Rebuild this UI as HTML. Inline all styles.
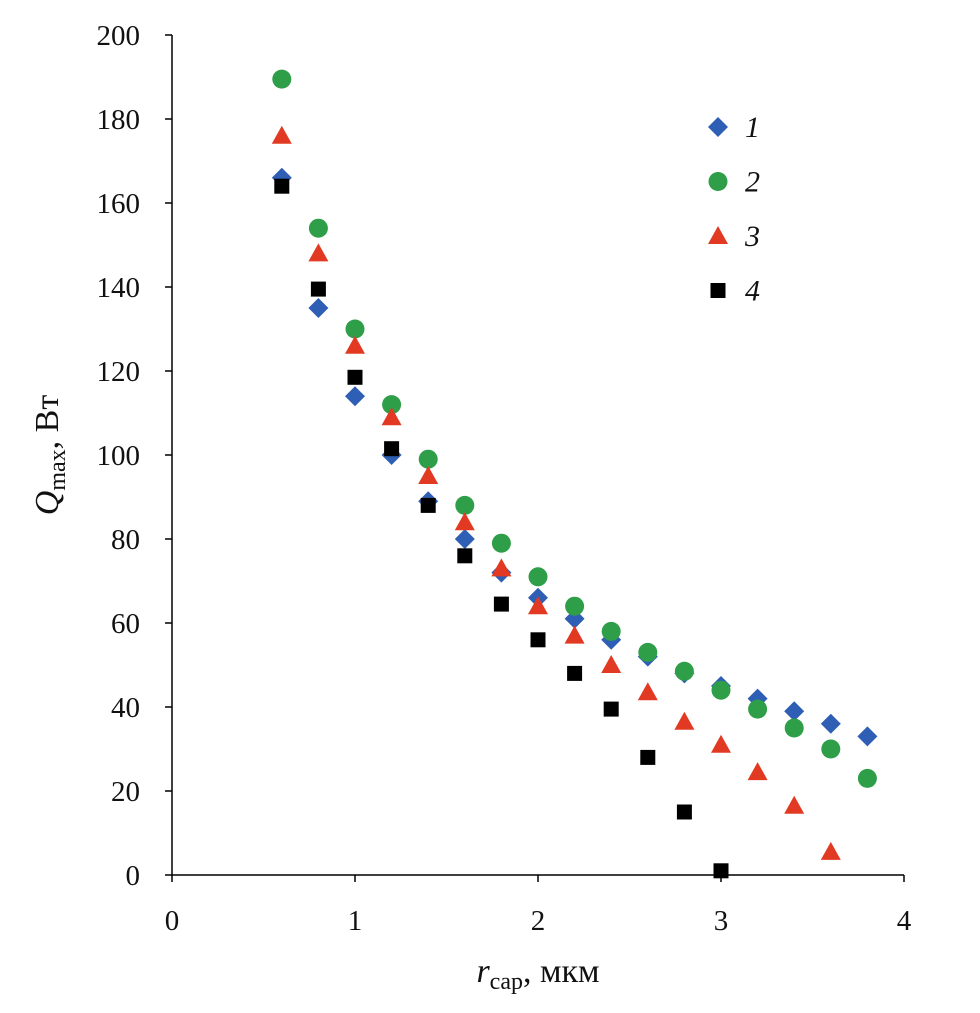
<!DOCTYPE html>
<html><head><meta charset="utf-8"><style>
body{margin:0;background:#fff}
svg text{font-family:"Liberation Serif",serif;fill:#111}
</style></head><body>
<svg id="chart" width="980" height="1008" viewBox="0 0 980 1008" xmlns="http://www.w3.org/2000/svg">
<g id="axes"></g>
<g id="marks"></g>
<g id="legend"></g>
<text transform="translate(58,455) rotate(-90)" text-anchor="middle" font-size="34"><tspan font-style="italic">Q</tspan><tspan font-size="24" dy="7">max</tspan><tspan dy="-7">, Вт</tspan></text>
<text x="538" y="982" text-anchor="middle" font-size="34"><tspan font-style="italic">r</tspan><tspan font-size="24" dy="7">cap</tspan><tspan dy="-7">, мкм</tspan></text>
</svg>
<script>
const xs1=[0.6,0.8,1.0,1.2,1.4,1.6,1.8,2.0,2.2,2.4,2.6,2.8,3.0,3.2,3.4,3.6,3.8];
const s1=[166,135,114,100,89,80,72,66,61,56,52,48,45,42,39,36,33];
const s2=[189.5,154,130,112,99,88,79,71,64,58,53,48.5,44,39.5,35,30,23];
const xs3=[0.6,0.8,1.0,1.2,1.4,1.6,1.8,2.0,2.2,2.4,2.6,2.8,3.0,3.2,3.4,3.6];
const s3=[176,148,126,109,95,84,73,64,57,50,43.5,36.5,31,24.5,16.5,5.5];
const xs4=[0.6,0.8,1.0,1.2,1.4,1.6,1.8,2.0,2.2,2.4,2.6,2.8,3.0];
const s4=[164,139.5,118.5,101.5,88,76,64.5,56,48,39.5,28,15,1];
const yTicks=[0,20,40,60,80,100,120,140,160,180,200];
const xTicks=[0,1,2,3,4];
const legendLabels=["1","2","3","4"];
const X=v=>172+v*183, Y=v=>875-v*4.2;
const NS="http://www.w3.org/2000/svg";
function mk(tag,attrs,parent){const e=document.createElementNS(NS,tag);for(const k in attrs)e.setAttribute(k,attrs[k]);parent.appendChild(e);return e;}
const axes=document.getElementById('axes'),marks=document.getElementById('marks'),leg=document.getElementById('legend');
let l=mk('line',{x1:172,y1:Y(200),x2:172,y2:875,stroke:'#000','stroke-width':1.5},axes);

l=mk('line',{x1:172,y1:875,x2:X(4),y2:875,stroke:'#000','stroke-width':1.5},axes);

yTicks.forEach(v=>{const t=mk('line',{x1:165,x2:172,y1:Y(v),y2:Y(v),stroke:'#000','stroke-width':1.5},axes);

const tx=mk('text',{x:140,y:Y(v)+10,'text-anchor':'end','font-size':29},axes);tx.textContent=v;
});
xTicks.forEach(v=>{const t=mk('line',{x1:X(v),x2:X(v),y1:875,y2:882,stroke:'#000','stroke-width':1.5},axes);

const tx=mk('text',{x:X(v),y:930,'text-anchor':'middle','font-size':29},axes);tx.textContent=v;
});
function marker(type,cx,cy,parent){let e;
if(type==0)e=mk('polygon',{points:`${cx},${cy-10} ${cx+10},${cy} ${cx},${cy+10} ${cx-10},${cy}`,fill:'#2f5fb5'},parent);
else if(type==1)e=mk('circle',{cx:cx,cy:cy,r:9.5,fill:'#2e9e48'},parent);
else if(type==2)e=mk('polygon',{points:`${cx},${cy-10} ${cx+10},${cy+8} ${cx-10},${cy+8}`,fill:'#e23a22'},parent);
else e=mk('rect',{x:cx-7.5,y:cy-7.5,width:15,height:15,fill:'#000'},parent);
return e;}
const series=[[xs1,s1],[xs1,s2],[xs3,s3],[xs4,s4]];
const names=['series-1-point','series-2-point','series-3-point','series-4-point'];
series.forEach((s,i)=>s[0].forEach((x,j)=>{const e=marker(i,X(x),Y(s[1][j]),marks);
}));
legendLabels.forEach((lab,i)=>{const y=127+i*54.5;const e=marker(i,718,y,leg);

const t=mk('text',{x:745,y:y+10,'font-size':30,'font-style':'italic'},leg);t.textContent=lab;
});
</script>
</body></html>
